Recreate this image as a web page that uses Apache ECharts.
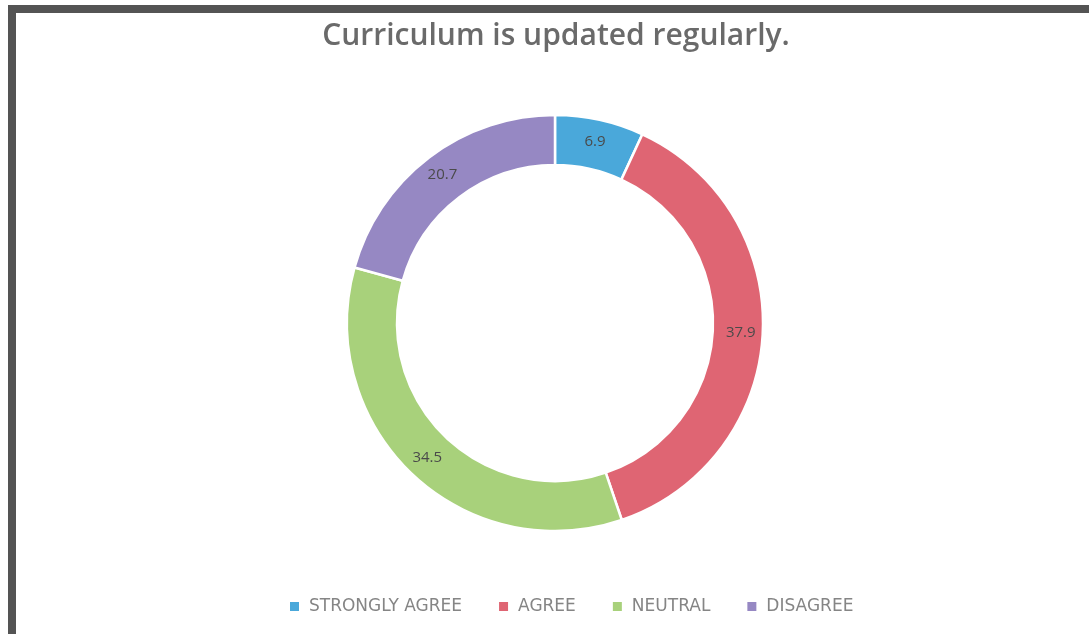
<!DOCTYPE html>
<html><head><meta charset="utf-8">
<script src="https://cdn.jsdelivr.net/npm/echarts@6/dist/echarts.min.js"></script>
<style>
html,body{margin:0;padding:0;background:#fff;}
#frame{position:absolute;left:8px;top:5px;width:1081px;height:629px;border-left:8px solid #545454;border-top:8px solid #545454;box-sizing:border-box;}
#chart{position:absolute;left:0;top:0;width:1089px;height:634px;}
</style></head>
<body>
<div id="frame"></div>
<div id="chart"></div>
<script>
const titleText = "Curriculum is updated regularly.";
const categories = ["STRONGLY AGREE", "AGREE", "NEUTRAL", "DISAGREE"];
const values = [6.9, 37.9, 34.5, 20.7];
const colors = ["#4aa8da", "#df6573", "#a8d17b", "#9688c3"];

const chart = echarts.init(document.getElementById('chart'));
chart.setOption({
  backgroundColor: 'transparent',
  animation: false,
  color: colors,
  title: {
    text: titleText, left: 551, top: 16, textAlign: 'center',
    textStyle: {fontFamily: 'Open Sans', fontWeight: 600, fontSize: 30, color: '#6a6a6a'}
  },
  legend: {
    bottom: 14, left: 283, itemWidth: 11, itemHeight: 11, itemGap: 35,
    icon: 'rect',
    textStyle: {fontFamily: 'DejaVu Sans', fontSize: 17, color: '#858585', padding: [0, 0, 0, 4]},
    data: categories
  },
  series: [{
    type: 'pie',
    center: [555, 323],
    radius: [158, 208],
    startAngle: 90,
    clockwise: true,
    avoidLabelOverlap: false,
    itemStyle: {borderColor: '#fff', borderWidth: 2.5},
    label: {
      show: true, position: 'inside', formatter: p => p.value,
      fontFamily: 'Open Sans', fontSize: 15, color: '#4a4a4a'
    },
    labelLine: {show: false},
    data: categories.map((c, i) => ({name: c, value: values[i]}))
  }]
});
</script>
</body></html>
